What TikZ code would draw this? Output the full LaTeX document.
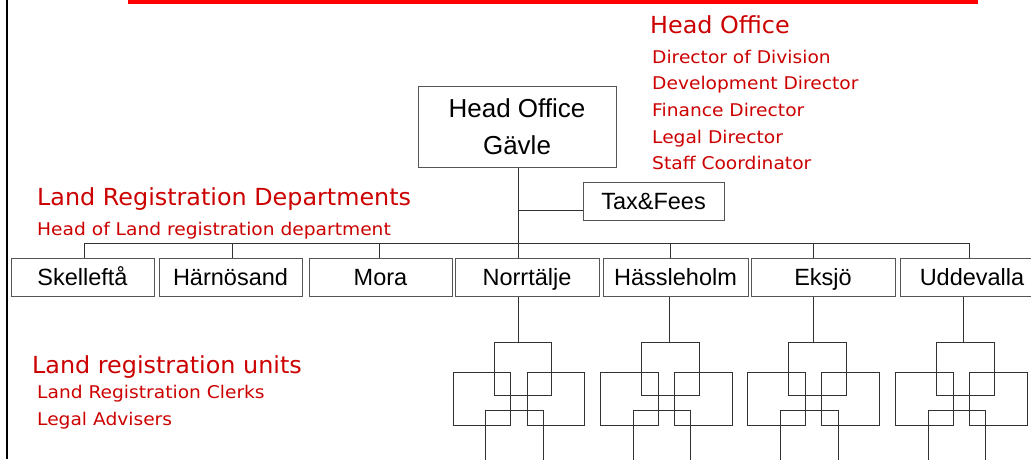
\documentclass[tikz,border=0pt]{standalone}
\usepackage{fontspec}
\setmainfont{Liberation Sans}
\newfontfamily\verdanahead[FakeStretch=1.015]{DejaVu Sans}
\newfontfamily\verdanaitem[FakeStretch=1.065]{DejaVu Sans}
\usepackage{tikz}
\definecolor{slidered}{RGB}{255,0,0}
\definecolor{headred}{RGB}{204,0,0}
\definecolor{boxgray}{RGB}{85,85,85}
\definecolor{linegray}{RGB}{50,50,50}
\tikzset{
	dept box/.style={draw=boxgray, line width=1pt, inner sep=0pt, minimum width=143pt, minimum height=38pt,
		font=\fontsize{23.5}{28}\selectfont, text height=17pt, text depth=0pt},
	conn/.style={draw=linegray, line width=1pt},
	red head/.style={anchor=base west, inner sep=0pt, text=headred, font=\verdanahead\fontsize{23.5}{28}\selectfont},
	red item/.style={anchor=base west, inner sep=0pt, text=headred, font=\verdanaitem\fontsize{17.5}{21}\selectfont},
	unit box/.style={draw=linegray, line width=1pt, inner sep=0pt, anchor=north west,
		minimum width=57.5pt, minimum height=53pt},
	units/.pic={
		\node[unit box] (-top) at (41,342) {};
		\node[unit box] (-left) at (0,372) {};
		\node[unit box] (-right) at (74,372) {};
		\node[unit box, minimum height=70pt] (-bottom) at (32.7,410) {};
	},
}

\begin{document}
\begin{tikzpicture}[x=1pt,y=-1pt]
	\useasboundingbox (0,0) rectangle (1031,459);
	% slide frame
	\fill[slidered] (128,0) rectangle (978,4);
	\draw[line width=2pt] (7,0) -- (7,459);
	% head office
	\node[draw=boxgray, line width=1pt, minimum width=198pt, minimum height=81pt, align=center,
		font=\fontsize{26}{37}\selectfont] (head) at (517,126.5) {Head Office\\Gävle};
	\node[dept box, minimum width=141pt] (tax) at (653.5,201) {Tax\&Fees};
	\node[red head] (hotitle) at (650,33.5) {Head Office};
	\node[red item] (ho1) at (652,63) {Director of Division};
	\node[red item] (ho2) at (652,89.7) {Development Director};
	\node[red item] (ho3) at (652,116.4) {Finance Director};
	\node[red item] (ho4) at (652,143.1) {Legal Director};
	\node[red item] (ho5) at (652,169.8) {Staff Coordinator};
	% departments
	\node[red head] (lrdtitle) at (37,205.7) {Land Registration Departments};
	\node[red item] (lrdhead) at (37,235) {Head of Land registration department};
	\node[dept box] (skel) at (82.5,277) {Skelleftå};
	\node[dept box] (harn) at (230.5,277) {Härnösand};
	\node[dept box] (mora) at (380.5,277) {Mora};
	\node[dept box, minimum width=144pt] (norr) at (527,277) {Norrtälje};
	\node[dept box, minimum width=145pt] (hass) at (675.5,277) {Hässleholm};
	\node[dept box, minimum width=144pt] (eksj) at (823,277) {Eksjö};
	\node[dept box, minimum width=144pt] (udde) at (972,277) {Uddevalla};
	\coordinate (d1) at (84,243);
	\coordinate (d2) at (232,243);
	\coordinate (d3) at (379,243);
	\coordinate (d4) at (518,243);
	\coordinate (d5) at (670,243);
	\coordinate (d6) at (813,243);
	\coordinate (d7) at (969,243);
	\draw[conn] (d1) -- (d7);
	\draw[conn] (head.south -| d4) -- (d4);
	\draw[conn] ([yshift=-9pt]tax.west -| d4) -- ([yshift=-9pt]tax.west);
	\draw[conn] (d1) -- (d1 |- skel.north);
	\draw[conn] (d2) -- (d2 |- harn.north);
	\draw[conn] (d3) -- (d3 |- mora.north);
	\draw[conn] (d4) -- (d4 |- norr.north);
	\draw[conn] (d5) -- (d5 |- hass.north);
	\draw[conn] (d6) -- (d6 |- eksj.north);
	\draw[conn] (d7) -- (d7 |- udde.north);
	% units
	\node[red head] (lrutitle) at (32,373.3) {Land registration units};
	\node[red item] (lru1) at (37,398.5) {Land Registration Clerks};
	\node[red item] (lru2) at (37,425) {Legal Advisers};
	\pic (u1) at (452.7,0) {units};
	\pic (u2) at (600,0) {units};
	\pic (u3) at (747.3,0) {units};
	\pic (u4) at (895,0) {units};
	\coordinate (e1) at (518.3,296);
	\coordinate (e2) at (669,296);
	\coordinate (e3) at (813.3,296);
	\coordinate (e4) at (963.3,296);
	\draw[conn] (e1 |- norr.south) -- (e1 |- u1-top.north);
	\draw[conn] (e2 |- hass.south) -- (e2 |- u2-top.north);
	\draw[conn] (e3 |- eksj.south) -- (e3 |- u3-top.north);
	\draw[conn] (e4 |- udde.south) -- (e4 |- u4-top.north);
\end{tikzpicture}
\end{document}
